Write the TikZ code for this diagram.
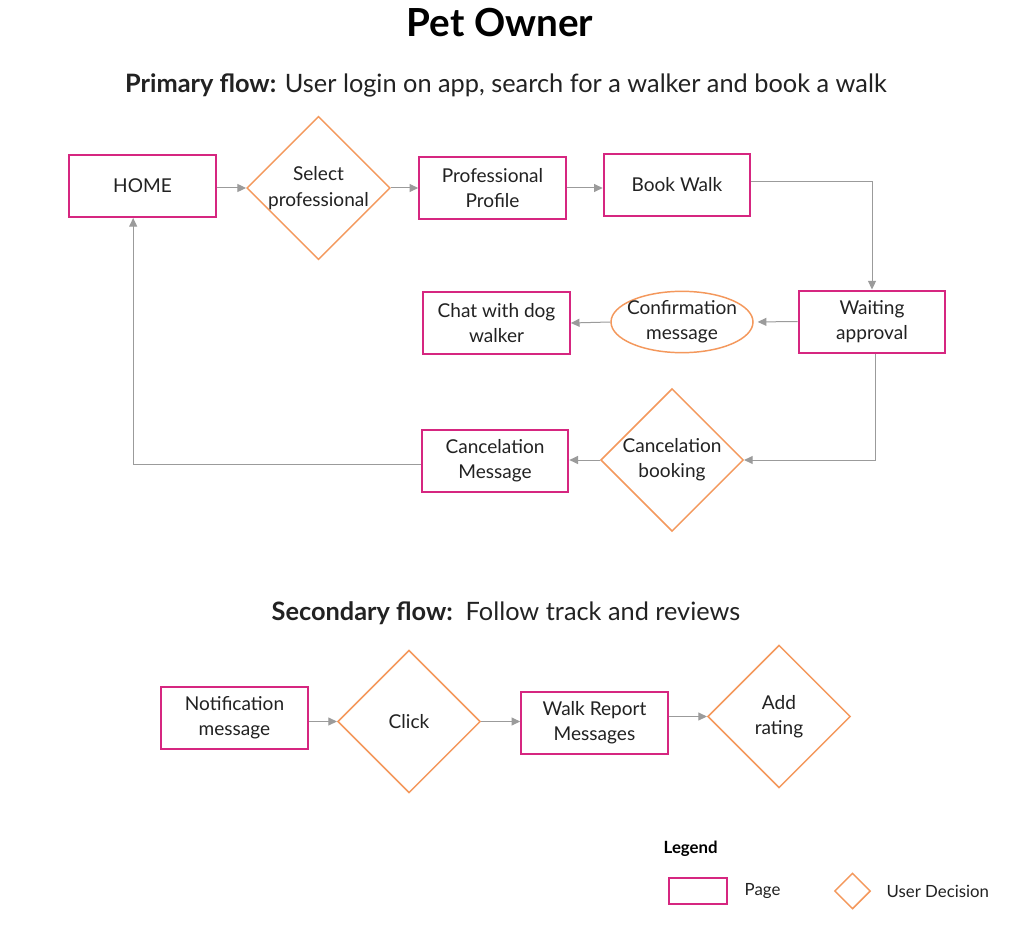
\documentclass[tikz,border=0pt]{standalone}
\usepackage{fontspec}
\setmainfont{Lato}
\usetikzlibrary{shapes.geometric,arrows.meta}
\definecolor{pagec}{RGB}{214,38,128}
\definecolor{decc}{RGB}{244,152,92}
\definecolor{arrc}{RGB}{155,155,155}
\definecolor{txtc}{RGB}{34,34,34}
\tikzset{
  pagebox/.style={draw=pagec,line width=1.5pt,minimum width=110pt,minimum height=46.5pt,inner sep=2pt,align=center,font=\fontsize{14.3}{19}\selectfont,text=txtc},
  decbox/.style={diamond,draw=decc,line width=1.1pt,minimum size=107pt,inner sep=0pt,align=center,font=\fontsize{14.3}{19}\selectfont,text=txtc},
  ellbox/.style={ellipse,draw=decc,line width=1.1pt,minimum width=106.5pt,minimum height=46pt,inner sep=0pt},
  conn/.style={draw=arrc,line width=0.75pt,-{Triangle[length=6.5pt,width=6pt]}},
}
\begin{document}
\begin{tikzpicture}[x=0.75pt,y=-0.75pt]
\useasboundingbox (0,0) rectangle (1012,930);
\fill[white] (0,0) rectangle (1012,930);
% titles
\node[text=black,font=\fontsize{29}{34}\selectfont\bfseries] (title) at (500,23) {Pet Owner};
\node[text=txtc,font=\fontsize{19}{23}\selectfont] (prim) at (506,85) {\textbf{Primary flow:} User login on app, search for a walker and book a walk};
\node[text=txtc,font=\fontsize{19}{23}\selectfont] (sec) at (506,613) {\textbf{Secondary flow:}\ \ Follow track and reviews};
% primary flow
\node[pagebox] (home) at (142.5,186) {HOME};
\node[decbox] (sel) at (318.5,188) {Select\\professional};
\node[pagebox] (prof) at (492.5,188) {Professional\\Profile};
\node[pagebox] (book) at (677,185) {Book Walk};
\node[pagebox] (wait) at (872,321.5) {Waiting\\approval};
\node[ellbox,label={[align=center,font=\fontsize{14.3}{19}\selectfont,text=txtc]center:Confirmation\\message}] (conf) at (682,322) {};
\node[pagebox] (chat) at (496.5,323) {Chat with dog\\walker};
\node[decbox] (cb) at (672,460) {Cancelation\\booking};
\node[pagebox] (cm) at (495,461) {Cancelation\\Message};
\draw[conn] (sel.west -| home.east) -- (sel.west);
\draw[conn] (sel.east) -- (sel.east -| prof.west);
\draw[conn] (prof.east) -- (prof.east -| book.west);
\draw[conn] ([yshift=2.25pt]book.east) -| (wait.north);
\draw[conn,shorten >=3pt] (wait.west) -- (conf.east);
\draw[conn] (conf.west) -- (chat.east);
\draw[conn] ([xshift=2.25pt]wait.south) |- (cb.east);
\draw[conn] (cb.west) -- (cb.west -| cm.east);
\draw[conn] ([yshift=-2.25pt]cm.west) -| ([xshift=-7pt]home.south);
% secondary flow
\node[pagebox] (notif) at (234.5,718) {Notification\\message};
\node[decbox] (click) at (409,721.5) {Click};
\node[pagebox] (walk) at (594.5,722.5) {Walk Report\\Messages};
\node[decbox] (rate) at (779,716.5) {Add\\rating};
\draw[conn] (click.west -| notif.east) -- (click.west);
\draw[conn] (click.east) -- (click.east -| walk.west);
\draw[conn] (rate.west -| walk.east) -- (rate.west);
% legend
\node[text=black,font=\fontsize{12.6}{15}\selectfont\bfseries,anchor=west] (leg) at (659,849) {Legend};
\node[draw=pagec,line width=1.5pt,minimum width=43.5pt,minimum height=19.5pt,inner sep=0pt] (lpage) at (698,891) {};
\node[text=txtc,font=\fontsize{12.6}{15}\selectfont,anchor=west] (lpaget) at (740,891) {Page};
\node[diamond,draw=decc,line width=1.1pt,minimum size=27pt,inner sep=0pt] (ldec) at (852.5,891) {};
\node[text=txtc,font=\fontsize{12.6}{15}\selectfont,anchor=west] (ldect) at (882,891) {User Decision};
\end{tikzpicture}
\end{document}
